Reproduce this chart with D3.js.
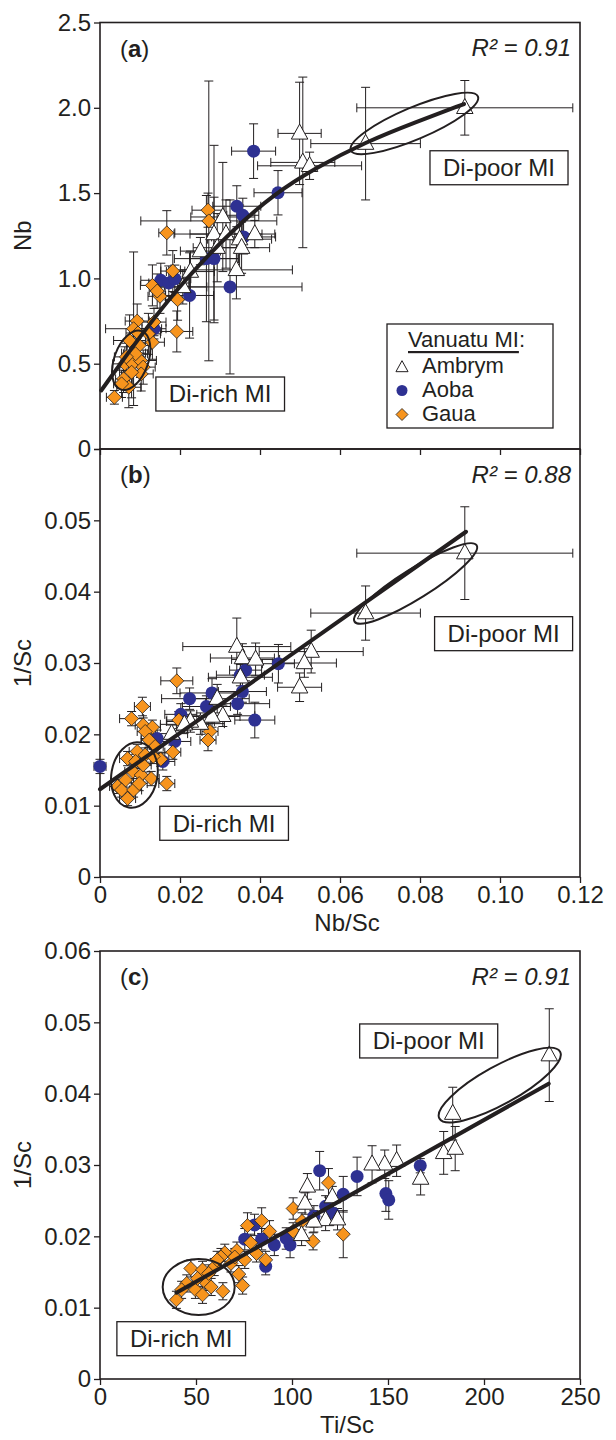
<!DOCTYPE html>
<html><head><meta charset="utf-8">
<script src="https://cdn.jsdelivr.net/npm/d3@7"></script>
<style>
body{margin:0;background:#fff}
svg{display:block}
text{font-family:"Liberation Sans",Arial,Helvetica,sans-serif;fill:#231f20}
</style>
</head><body>
<svg id="chart" width="616" height="1440"></svg>
<script>
// ---------- tick values / labels ----------
const xTicksNbSc = [0, 0.02, 0.04, 0.06, 0.08, 0.10, 0.12];
const xTickLabelsNbSc = ["0", "0.02", "0.04", "0.06", "0.08", "0.10", "0.12"];
const yTicksNb = [0, 0.5, 1.0, 1.5, 2.0, 2.5];
const yTickLabelsNb = ["0", "0.5", "1.0", "1.5", "2.0", "2.5"];
const yTicksSc = [0, 0.01, 0.02, 0.03, 0.04, 0.05, 0.06];
const yTickLabelsScB = ["0", "0.01", "0.02", "0.03", "0.04", "0.05", ""];
const yTickLabelsScC = ["0", "0.01", "0.02", "0.03", "0.04", "0.05", "0.06"];
const xTicksTiSc = [0, 50, 100, 150, 200, 250];
const xTickLabelsTiSc = ["0", "50", "100", "150", "200", "250"];

const seriesNames = ["Ambrym", "Aoba", "Gaua"];
const panelLetters = ["a", "b", "c"];
const r2Labels = ["R\u00B2 = 0.91", "R\u00B2 = 0.88", "R\u00B2 = 0.91"];

// ---------- data: [x, y, xErrHalf, yErrHalf] ----------
// Panel a: Nb vs Nb/Sc
const ambrymA = [
 [0.0912,2.00,0.027,0.16],[0.0664,1.79,0.0137,0.33],[0.0499,1.85,0.0054,0.30],
 [0.0507,1.68,0.008,0.50],[0.0524,1.66,0.013,0.08],[0.0307,1.36,0.008,0.32],
 [0.0285,1.26,0.010,0.52],[0.0315,1.26,0.009,0.20],[0.0349,1.23,0.008,0.20],
 [0.0354,1.18,0.007,0.15],[0.0387,1.26,0.005,0.08],[0.0293,1.18,0.006,0.20],
 [0.0251,1.16,0.005,0.08],[0.0226,1.04,0.006,0.12],[0.0341,1.05,0.014,0.17],
 [0.0207,0.95,0.006,0.10]
];
const aobaA = [
 [0.0384,1.746,0.0055,0.16],[0.0445,1.502,0.006,0.13],[0.0342,1.423,0.006,0.12],
 [0.0357,1.37,0.004,0.10],[0.0359,1.243,0.008,0.10],[0.0325,0.95,0.018,0.51],
 [0.0266,1.116,0.008,0.37],[0.0285,1.116,0.006,0.36],[0.0224,0.90,0.006,0.25],
 [0.0152,0.989,0.005,0.10],[0.0172,0.973,0.005,0.10],[0.0187,0.998,0.004,0.08],
 [0.0135,0.705,0.003,0.06]
];
const gauaA = [
 [0.0036,0.303,0.002,0.04],[0.0167,1.267,0.002,0.13],[0.0270,1.40,0.004,0.10],
 [0.0272,1.337,0.017,0.82],[0.0182,1.043,0.003,0.12],[0.0131,0.959,0.003,0.12],
 [0.0150,0.895,0.003,0.10],[0.0143,0.926,0.002,0.10],[0.0194,0.875,0.003,0.12],
 [0.0192,0.689,0.004,0.12],[0.0135,0.744,0.003,0.08],[0.0131,0.626,0.003,0.10],
 [0.0121,0.675,0.003,0.12],[0.0093,0.750,0.003,0.10],[0.0084,0.705,0.007,0.45],
 [0.0074,0.636,0.004,0.15],[0.0098,0.607,0.003,0.10],[0.0084,0.562,0.003,0.10],
 [0.0062,0.499,0.003,0.10],[0.0082,0.499,0.003,0.12],[0.0101,0.519,0.004,0.10],
 [0.0108,0.480,0.003,0.10],[0.0103,0.440,0.003,0.10],[0.0079,0.450,0.003,0.15],
 [0.0059,0.411,0.002,0.08],[0.0072,0.362,0.003,0.12],[0.0054,0.382,0.002,0.08],
 [0.0089,0.558,0.003,0.08],[0.0066,0.540,0.003,0.08],[0.0095,0.680,0.003,0.08]
];
const trendA = [[0.0003,0.343],[0.0100,0.66],[0.0202,0.969],[0.0339,1.302],[0.0438,1.498],
 [0.0536,1.644],[0.0664,1.80],[0.0792,1.919],[0.091,2.022]];

// Panel b: 1/Sc vs Nb/Sc
const ambrymB = [
 [0.0912,0.0454,0.027,0.0065],[0.0664,0.0370,0.0137,0.0038],[0.0342,0.0323,0.0135,0.004],
 [0.0356,0.0307,0.008,0.002],[0.0389,0.0305,0.006,0.0023],[0.0351,0.0280,0.008,0.002],
 [0.0528,0.0316,0.013,0.003],[0.0511,0.0300,0.008,0.002],[0.0499,0.0266,0.0055,0.002],
 [0.0293,0.0250,0.008,0.002],[0.0307,0.0226,0.008,0.0015],[0.0280,0.0225,0.007,0.0015],
 [0.0251,0.0215,0.006,0.0015],[0.0226,0.0218,0.006,0.0015],[0.0211,0.0214,0.006,0.0012],
 [0.0179,0.0201,0.004,0.0012]
];
const aobaB = [
 [0.0000,0.0155,0.0015,0.001],[0.0446,0.0299,0.004,0.0027],[0.0351,0.0283,0.006,0.0015],
 [0.0364,0.0290,0.004,0.0015],[0.0356,0.0260,0.006,0.0015],[0.0344,0.0243,0.008,0.0015],
 [0.0387,0.0220,0.005,0.0025],[0.0280,0.0258,0.008,0.002],[0.0224,0.0250,0.007,0.0015],
 [0.0266,0.0239,0.006,0.0015],[0.0202,0.0228,0.004,0.0015],[0.0187,0.0190,0.004,0.0015],
 [0.0143,0.0194,0.004,0.0012],[0.0157,0.0162,0.003,0.0012]
];
const gauaB = [
 [0.0192,0.0275,0.004,0.0018],[0.0106,0.0239,0.002,0.0013],[0.0079,0.0222,0.003,0.001],
 [0.0108,0.0213,0.002,0.001],[0.0131,0.0210,0.002,0.001],[0.0113,0.0204,0.002,0.001],
 [0.0197,0.0220,0.003,0.0012],[0.0275,0.0204,0.002,0.0012],[0.0270,0.0192,0.002,0.0015],
 [0.0182,0.0175,0.002,0.001],[0.0152,0.0165,0.002,0.001],[0.0167,0.0131,0.002,0.001],
 [0.0123,0.0192,0.002,0.001],[0.0138,0.0183,0.002,0.001],[0.0093,0.0176,0.002,0.001],
 [0.0069,0.0166,0.002,0.001],[0.0113,0.0171,0.002,0.001],[0.0089,0.0162,0.002,0.001],
 [0.0082,0.0148,0.002,0.001],[0.0064,0.0136,0.002,0.001],[0.0103,0.0143,0.002,0.001],
 [0.0128,0.0138,0.002,0.001],[0.0044,0.0127,0.002,0.001],[0.0054,0.0122,0.002,0.001],
 [0.0084,0.0122,0.002,0.001],[0.0069,0.0110,0.002,0.001],[0.0098,0.0131,0.002,0.001],
 [0.0108,0.0157,0.002,0.001],[0.0133,0.0169,0.002,0.001]
];
const trendB = [[0,0.0123],[0.0915,0.0484]];

// Panel c: 1/Sc vs Ti/Sc
const ambrymC = [
 [234,0.0454,0,0.0065],[183.7,0.0372,0,0.0037],[179,0.0317,0,0.003],
 [185,0.0323,0,0.0031],[167,0.0281,0,0.0023],[154.5,0.0306,0,0.0022],
 [148.3,0.0301,0,0.002],[141.7,0.0301,0,0.0026],[108,0.0270,0,0.0018],
 [106.8,0.0246,0,0.0015],[117.5,0.0223,0,0.0015],[123.7,0.0224,0,0.0015],
 [111.4,0.0221,0,0.0015],[105,0.0202,0,0.0015],[121,0.0255,0,0.0015]
];
const aobaC = [
 [166.8,0.0299,0,0.001],[133.9,0.0284,0,0.0027],[114.4,0.0292,0,0.0027],
 [126.7,0.0259,0,0.0025],[148.9,0.0260,0,0.0025],[150.4,0.0251,0,0.0027],
 [117.5,0.0242,0,0.0015],[121.6,0.0232,0,0.0015],[111.4,0.0228,0,0.0015],
 [99,0.0188,0,0.0018],[90.8,0.0188,0,0.0015],[97,0.0197,0,0.0015],
 [84.2,0.0196,0,0.0015],[75.4,0.0196,0,0.0015],[86.3,0.0158,0,0.0012],
 [80.5,0.0216,0,0.0015]
];
const gauaC = [
 [126.7,0.0203,0,0.0033],[119,0.0275,0,0.002],[100.6,0.0239,0,0.0015],
 [111,0.0193,0,0.0012],[105.2,0.0221,0,0.0012],[100.6,0.0207,0,0.0012],
 [88.3,0.0207,0,0.0015],[84.2,0.0222,0,0.0018],[76.8,0.0215,0,0.0018],
 [78.5,0.0191,0,0.0012],[71.3,0.0180,0,0.0012],[65,0.0177,0,0.0012],
 [63,0.0171,0,0.0012],[75.4,0.0167,0,0.0012],[81.5,0.0176,0,0.0012],
 [86.3,0.0167,0,0.0012],[72.3,0.0147,0,0.0012],[74.3,0.0131,0,0.0012],
 [64,0.0123,0,0.0012],[54.8,0.0136,0,0.0012],[47.3,0.0155,0,0.0012],
 [53.4,0.0153,0,0.0012],[59.5,0.0157,0,0.0012],[45.2,0.0134,0,0.0012],
 [49.7,0.0125,0,0.0012],[53.4,0.0118,0,0.0012],[39.8,0.0111,0,0.0012],
 [42.5,0.0125,0,0.0012],[50.8,0.0141,0,0.0012],[56.6,0.0148,0,0.0012],
 [68.2,0.0162,0,0.0012],[70.2,0.0171,0,0.0012],[61,0.0167,0,0.0012],
 [57.9,0.0129,0,0.0012]
];
const trendC = [[39.8,0.0121],[233.7,0.0414]];

// annotations: ellipse centres (data), label-box centres (data)
const ellipsesA = [{cx:0.0786,cy:1.9085,rx:69,ry:16,rot:-23},{cx:0.0078,cy:0.52,rx:17,ry:31,rot:20}];
const ellipsesB = [{cx:0.0789,cy:0.04115,rx:72,ry:15,rot:-32},{cx:0.0086,cy:0.0143,rx:23,ry:33,rot:10}];
const ellipsesC = [{cx:208.2,cy:0.0412,rx:69,ry:19,rot:-29},{cx:51.4,cy:0.0129,rx:36,ry:28,rot:0}];
const boxesA = [{text:"Di-poor MI",x:0.09975,y:1.6486},{text:"Di-rich MI",x:0.03005,y:0.3224}];
const boxesB = [{text:"Di-poor MI",x:0.1009,y:0.03411},{text:"Di-rich MI",x:0.03103,y:0.00753}];
const boxesC = [{text:"Di-poor MI",x:171.2,y:0.04739},{text:"Di-rich MI",x:42.3,y:0.00565}];

// ---------- layout ----------
const INK = "#231f20", BLUE = "#2e3192", ORANGE = "#f7941d";
const L = 100, R = 580;
const panels = [
 {letter:panelLetters[0], r2:r2Labels[0], top:22.5, bot:449, xd:[0,0.12], yd:[0,2.5],
  xt:xTicksNbSc, xl:null, yt:yTicksNb, yl:yTickLabelsNb, yTitle:"Nb", xTitle:null,
  amb:ambrymA, aob:aobaA, gau:gauaA, trend:trendA, curve:d3.curveBasis, ell:ellipsesA, box:boxesA, showLegend:true},
 {letter:panelLetters[1], r2:r2Labels[1], top:449, bot:877, xd:[0,0.12], yd:[0,0.06],
  xt:xTicksNbSc, xl:xTickLabelsNbSc, yt:yTicksSc, yl:yTickLabelsScB, yTitle:"1/Sc", xTitle:"Nb/Sc",
  amb:ambrymB, aob:aobaB, gau:gauaB, trend:trendB, curve:d3.curveLinear, ell:ellipsesB, box:boxesB},
 {letter:panelLetters[2], r2:r2Labels[2], top:951, bot:1379, xd:[0,250], yd:[0,0.06],
  xt:xTicksTiSc, xl:xTickLabelsTiSc, yt:yTicksSc, yl:yTickLabelsScC, yTitle:"1/Sc", xTitle:"Ti/Sc",
  amb:ambrymC, aob:aobaC, gau:gauaC, trend:trendC, curve:d3.curveLinear, ell:ellipsesC, box:boxesC}
];

const svg = d3.select("#chart");
const TICK_FS = 24, LABEL_FS = 24, TITLE_FS = 24;

const triPath = s => `M0,${-s*0.62}L${s*0.55},${s*0.38}L${-s*0.55},${s*0.38}Z`;
const diaPath = s => `M0,${-s}L${s},0L0,${s}L${-s},0Z`;

panels.forEach(p => {
  const g = svg.append("g");
  const x = d3.scaleLinear().domain(p.xd).range([L, R]);
  const y = d3.scaleLinear().domain(p.yd).range([p.bot, p.top]);

  // y axis
  const ya = g.append("g").attr("transform", `translate(${L},0)`)
    .call(d3.axisLeft(y).tickValues(p.yt).tickSize(6).tickPadding(3)
      .tickFormat((d,i) => p.yl[i]));
  ya.attr("font-size", TICK_FS).attr("font-family", '"Liberation Sans",Arial,sans-serif');
  ya.select(".domain").remove();
  ya.selectAll("line").attr("stroke", INK).attr("stroke-width", 1.3);
  ya.selectAll("text").attr("fill", INK);

  // x axis
  const xa = g.append("g").attr("transform", `translate(0,${p.bot})`)
    .call(d3.axisBottom(x).tickValues(p.xt).tickSize(6).tickPadding(3)
      .tickFormat((d,i) => p.xl ? p.xl[i] : ""));
  xa.attr("font-size", TICK_FS).attr("font-family", '"Liberation Sans",Arial,sans-serif');
  xa.select(".domain").remove();
  xa.selectAll("line").attr("stroke", INK).attr("stroke-width", 1.3);
  xa.selectAll("text").attr("fill", INK);

  // frame
  g.append("rect").attr("x", L).attr("y", p.top).attr("width", R - L).attr("height", p.bot - p.top)
    .attr("fill", "none").attr("stroke", INK).attr("stroke-width", 1.6);

  // axis titles
  g.append("text").attr("transform", `translate(22,${(p.top + p.bot) / 2}) rotate(-90)`)
    .attr("text-anchor", "middle").attr("dominant-baseline", "central")
    .attr("font-size", TITLE_FS).text(p.yTitle);
  if (p.xTitle) {
    g.append("text").attr("x", (L + R) / 2 + 7).attr("y", p.bot + 45)
      .attr("text-anchor", "middle").attr("dominant-baseline", "central")
      .attr("font-size", 24).text(p.xTitle);
  }

  // panel letter
  const lt = g.append("text").attr("x", L + 20).attr("y", p.top + 25)
    .attr("dominant-baseline", "central").attr("font-size", TITLE_FS);
  lt.append("tspan").text("(");
  lt.append("tspan").attr("font-weight", "bold").text(p.letter);
  lt.append("tspan").text(")");

  // R2
  g.append("text").attr("x", R - 9).attr("y", p.top + 25)
    .attr("text-anchor", "end").attr("dominant-baseline", "central")
    .attr("font-size", TITLE_FS).attr("font-style", "italic").text(p.r2);

  // error bars
  const eb = g.append("g").attr("stroke", INK).attr("stroke-width", 1).attr("fill", "none");
  const cap = 4.5;
  const allPts = [].concat(p.aob, p.gau, p.amb);
  allPts.forEach(d => {
    const px = x(d[0]), py = y(d[1]);
    if (d[2] > 0) {
      const x1 = x(d[0] - d[2]), x2 = x(d[0] + d[2]);
      eb.append("line").attr("x1", x1).attr("x2", x2).attr("y1", py).attr("y2", py);
      eb.append("line").attr("x1", x1).attr("x2", x1).attr("y1", py - cap).attr("y2", py + cap);
      eb.append("line").attr("x1", x2).attr("x2", x2).attr("y1", py - cap).attr("y2", py + cap);
    }
    if (d[3] > 0) {
      const y1 = y(d[1] - d[3]), y2 = y(d[1] + d[3]);
      eb.append("line").attr("x1", px).attr("x2", px).attr("y1", y1).attr("y2", y2);
      eb.append("line").attr("x1", px - cap).attr("x2", px + cap).attr("y1", y1).attr("y2", y1);
      eb.append("line").attr("x1", px - cap).attr("x2", px + cap).attr("y1", y2).attr("y2", y2);
    }
  });

  // markers
  g.append("g").selectAll("circle").data(p.aob).join("circle")
    .attr("cx", d => x(d[0])).attr("cy", d => y(d[1])).attr("r", 6.5).attr("fill", BLUE);
  g.append("g").selectAll("path").data(p.gau).join("path")
    .attr("transform", d => `translate(${x(d[0])},${y(d[1])})`).attr("d", diaPath(7))
    .attr("fill", ORANGE).attr("stroke", INK).attr("stroke-width", 0.8);
  g.append("g").selectAll("path").data(p.amb).join("path")
    .attr("transform", d => `translate(${x(d[0])},${y(d[1])})`).attr("d", triPath(15))
    .attr("fill", "#fff").attr("stroke", INK).attr("stroke-width", 1);

  // trend line
  g.append("path").datum(p.trend)
    .attr("d", d3.line().x(d => x(d[0])).y(d => y(d[1])).curve(p.curve))
    .attr("fill", "none").attr("stroke", INK).attr("stroke-width", 4).attr("stroke-linecap", "round");

  // ellipses
  g.append("g").selectAll("ellipse").data(p.ell).join("ellipse")
    .attr("transform", d => `translate(${x(d.cx)},${y(d.cy)}) rotate(${d.rot})`)
    .attr("rx", d => d.rx).attr("ry", d => d.ry)
    .attr("fill", "none").attr("stroke", INK).attr("stroke-width", 2);

  // label boxes
  p.box.forEach(b => {
    const bg = g.append("g");
    const t = bg.append("text").attr("x", x(b.x)).attr("y", y(b.y))
      .attr("text-anchor", "middle").attr("dominant-baseline", "central")
      .attr("font-size", LABEL_FS).text(b.text);
    const w = t.node().getComputedTextLength() + 26;
    bg.insert("rect", "text").attr("x", x(b.x) - w / 2).attr("y", y(b.y) - 17)
      .attr("width", w).attr("height", 34).attr("fill", "#fff")
      .attr("stroke", INK).attr("stroke-width", 1.3);
  });

  // legend
  if (p.showLegend) {
    const lg = g.append("g");
    lg.append("rect").attr("x", 387).attr("y", 324).attr("width", 166).attr("height", 104)
      .attr("fill", "#fff").attr("stroke", INK).attr("stroke-width", 1.3);
    const tt = lg.append("text").attr("x", 408).attr("y", 339).attr("font-size", 22)
      .attr("dominant-baseline", "central");
    tt.append("tspan").attr("text-decoration", "underline").text("Vanuatu MI");
    tt.append("tspan").text(":");
    const rows = [365.5, 389.5, 413.5];
    seriesNames.forEach((name, i) => {
      const sx = 402, sy = rows[i];
      if (i === 0) lg.append("path").attr("transform", `translate(${sx},${sy + 2})`).attr("d", triPath(11))
        .attr("fill", "#fff").attr("stroke", INK).attr("stroke-width", 1);
      if (i === 1) lg.append("circle").attr("cx", sx).attr("cy", sy + 1).attr("r", 5.5).attr("fill", BLUE);
      if (i === 2) lg.append("path").attr("transform", `translate(${sx},${sy + 1})`).attr("d", diaPath(6))
        .attr("fill", ORANGE).attr("stroke", INK).attr("stroke-width", 0.8);
      lg.append("text").attr("x", 422).attr("y", sy).attr("dominant-baseline", "central")
        .attr("font-size", 22).text(name);
    });
  }
});
</script>
</body></html>
